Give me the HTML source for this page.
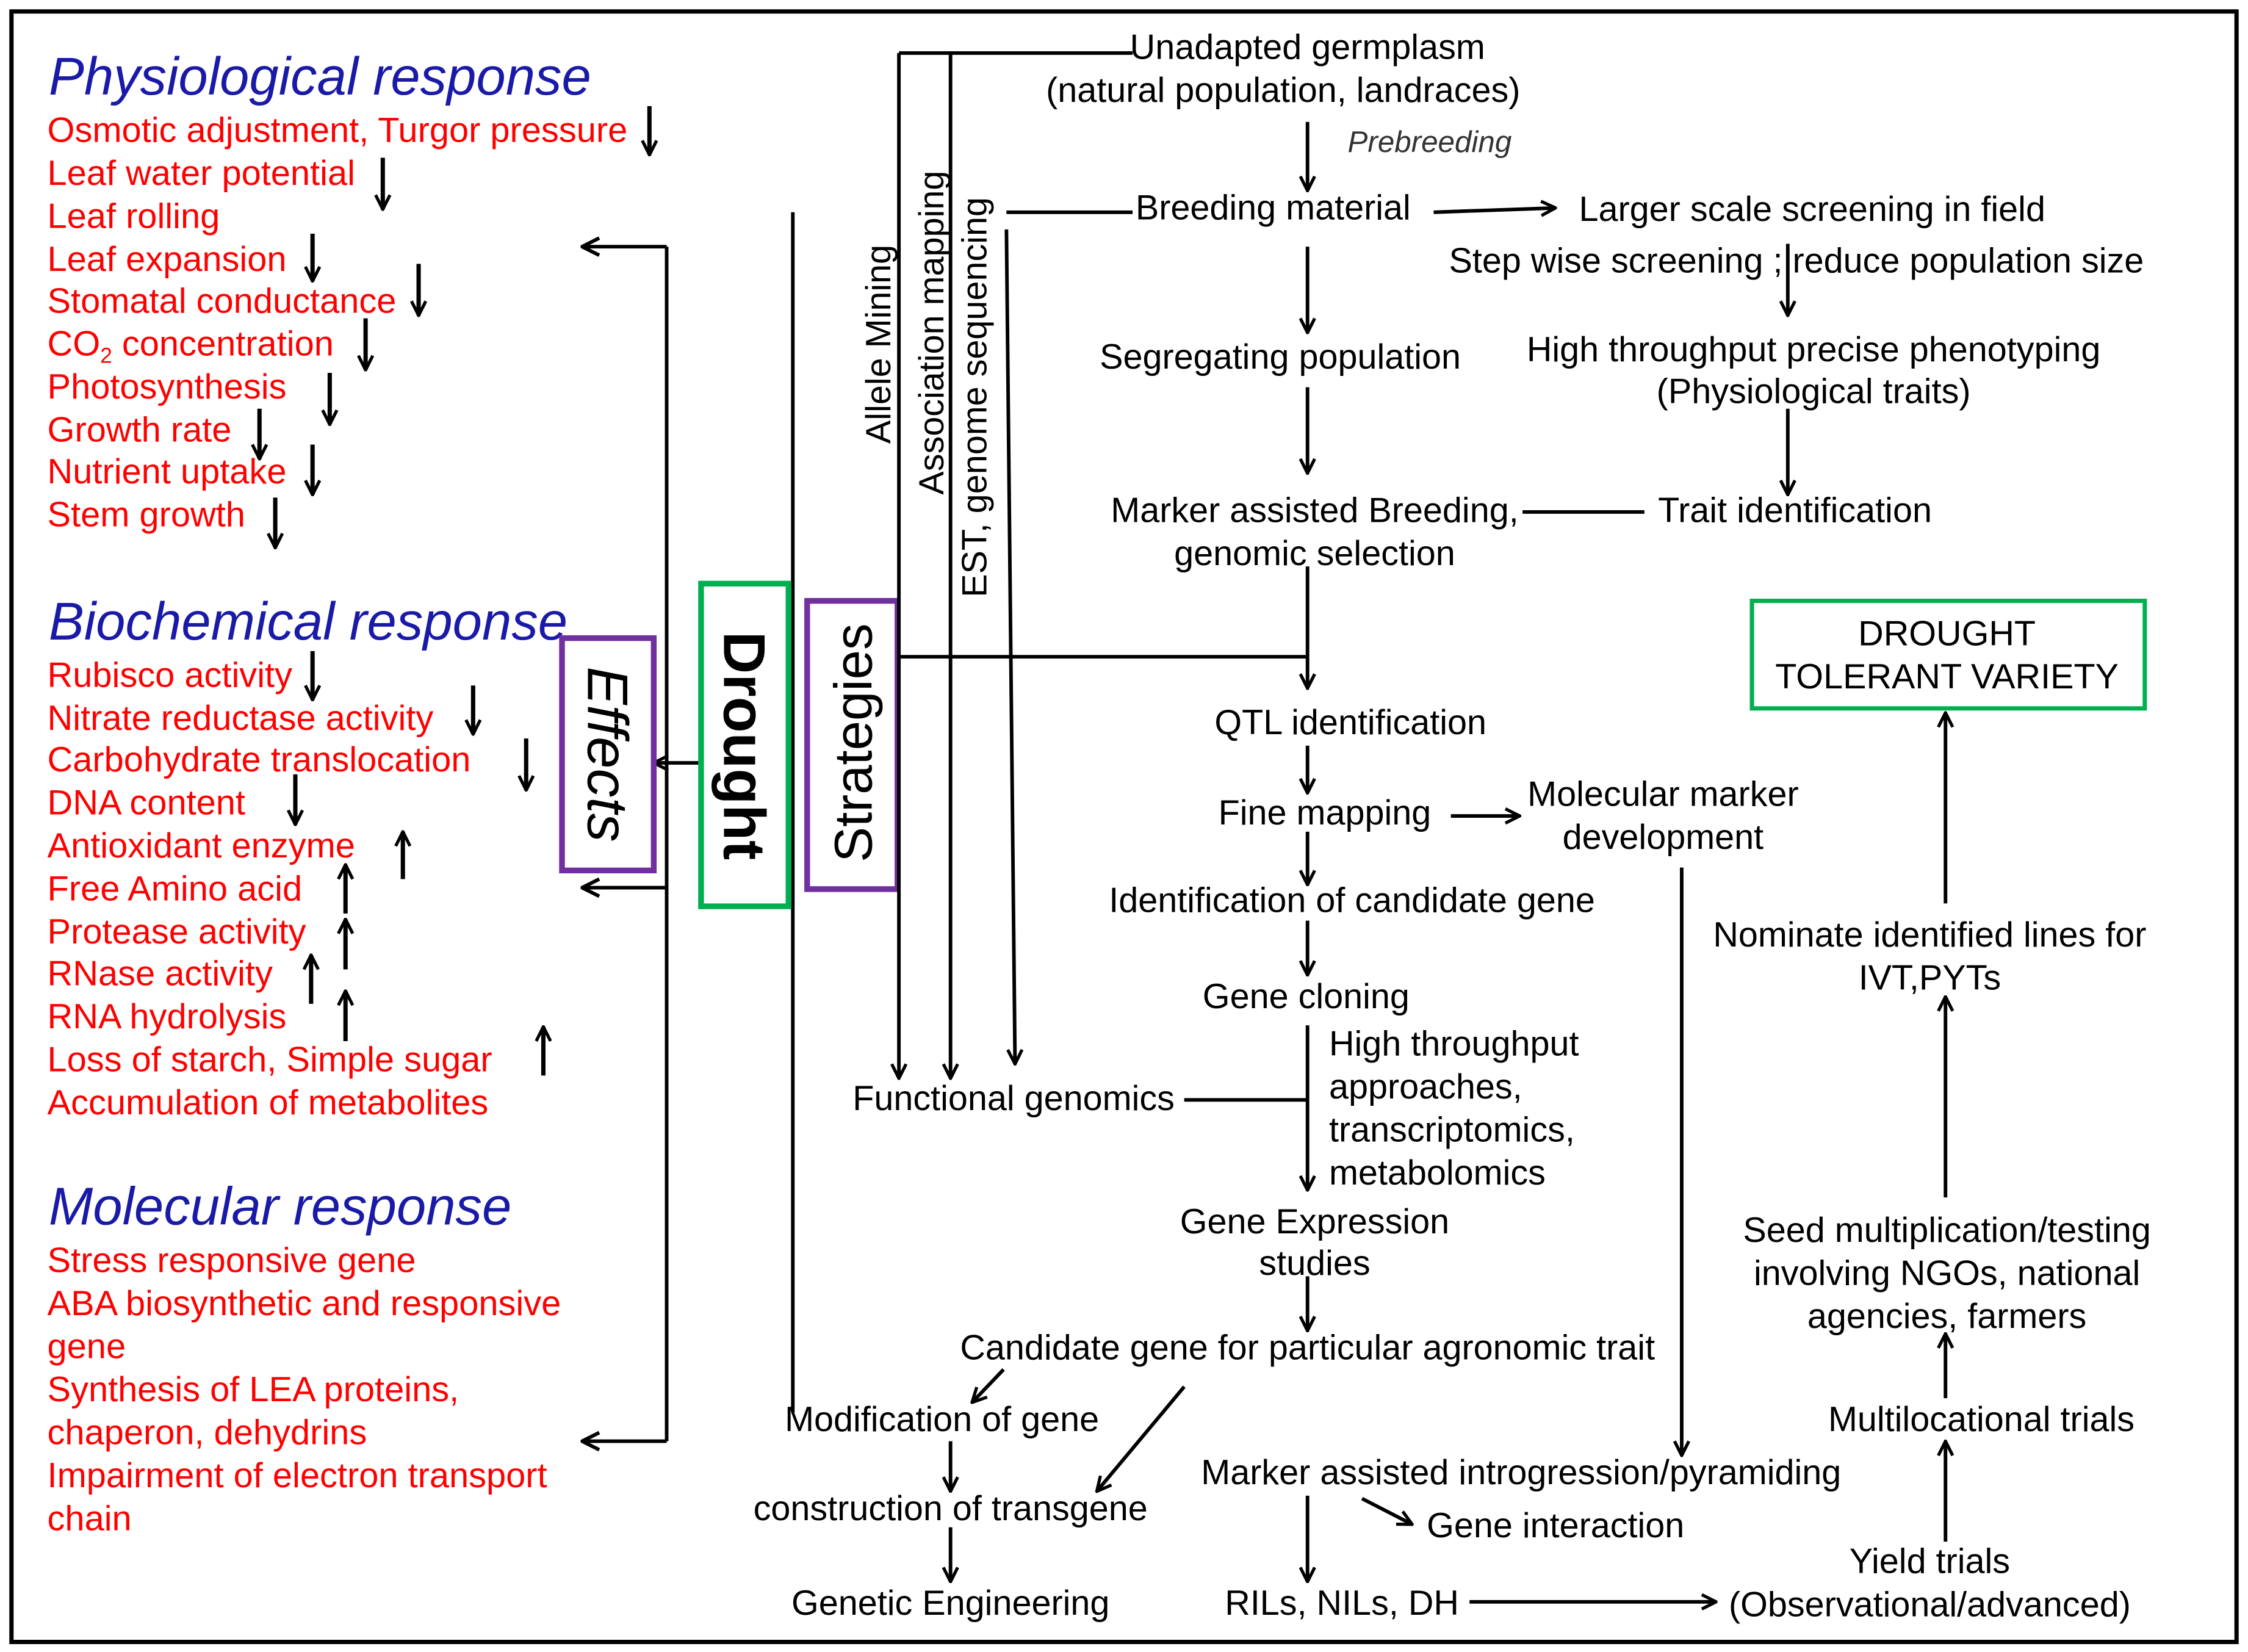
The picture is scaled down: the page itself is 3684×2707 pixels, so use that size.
<!DOCTYPE html>
<html><head><meta charset="utf-8"><style>
html,body{margin:0;padding:0;background:#fff;}
svg{display:block;}
text{font-family:"Liberation Sans",Arial,sans-serif;}
.r{fill:#ff0000;font-size:24.6px;}
.k{fill:#000;font-size:24.5px;}
.h{fill:#1a1aa8;font-size:37px;font-style:italic;}
.m{text-anchor:middle;}
</style></head><body>
<svg width="3684" height="2707" viewBox="0 0 1568 1152" preserveAspectRatio="none" xmlns="http://www.w3.org/2000/svg">
<defs>
<marker id="a" viewBox="0 0 12 12" refX="11" refY="6" markerWidth="12" markerHeight="12" markerUnits="userSpaceOnUse" orient="auto">
<path d="M1,1 L11,6 L1,11" fill="none" stroke="#000" stroke-width="2.2"/></marker>
<marker id="b" viewBox="0 0 14 14" refX="13" refY="7" markerWidth="14" markerHeight="14" markerUnits="userSpaceOnUse" orient="auto">
<path d="M1,1 L13,7 L1,13" fill="none" stroke="#000" stroke-width="2.5"/></marker>
</defs>
<rect x="0" y="0" width="1568" height="1152" fill="#fff"/>
<rect x="8" y="8" width="1552" height="1137" fill="none" stroke="#000" stroke-width="3"/>

<text class="h" x="34" y="66">Physiological response</text>
<text class="h" x="34" y="446">Biochemical response</text>
<text class="h" x="34" y="854">Molecular response</text>

<text class="r" x="33" y="99">Osmotic adjustment, Turgor pressure</text>
<text class="r" x="33" y="129">Leaf water potential</text>
<text class="r" x="33" y="159">Leaf rolling</text>
<text class="r" x="33" y="189">Leaf expansion</text>
<text class="r" x="33" y="218">Stomatal conductance</text>
<text class="r" x="33" y="248">CO<tspan font-size="15" dy="5">2</tspan><tspan dy="-5"> concentration</tspan></text>
<text class="r" x="33" y="278">Photosynthesis</text>
<text class="r" x="33" y="308">Growth rate</text>
<text class="r" x="33" y="337">Nutrient uptake</text>
<text class="r" x="33" y="367">Stem growth</text>

<text class="r" x="33" y="479">Rubisco activity</text>
<text class="r" x="33" y="509">Nitrate reductase activity</text>
<text class="r" x="33" y="538">Carbohydrate translocation</text>
<text class="r" x="33" y="568">DNA content</text>
<text class="r" x="33" y="598">Antioxidant enzyme</text>
<text class="r" x="33" y="628">Free Amino acid</text>
<text class="r" x="33" y="658">Protease activity</text>
<text class="r" x="33" y="687">RNase activity</text>
<text class="r" x="33" y="717">RNA hydrolysis</text>
<text class="r" x="33" y="747">Loss of starch, Simple sugar</text>
<text class="r" x="33" y="777">Accumulation of metabolites</text>

<text class="r" x="33" y="887">Stress responsive gene</text>
<text class="r" x="33" y="917">ABA biosynthetic and responsive</text>
<text class="r" x="33" y="947">gene</text>
<text class="r" x="33" y="977">Synthesis of LEA proteins,</text>
<text class="r" x="33" y="1007">chaperon, dehydrins</text>
<text class="r" x="33" y="1037">Impairment of electron transport</text>
<text class="r" x="33" y="1067">chain</text>

<g stroke="#000" stroke-width="3" fill="none" marker-end="url(#a)">
<line x1="453" y1="74" x2="453" y2="108"/>
<line x1="267" y1="110" x2="267" y2="146"/>
<line x1="218" y1="163" x2="218" y2="196"/>
<line x1="292" y1="184" x2="292" y2="220"/>
<line x1="255" y1="222" x2="255" y2="258"/>
<line x1="230" y1="260" x2="230" y2="296"/>
<line x1="181" y1="285" x2="181" y2="320"/>
<line x1="218" y1="310" x2="218" y2="345"/>
<line x1="192" y1="347" x2="192" y2="382"/>
<line x1="218" y1="454" x2="218" y2="488"/>
<line x1="330" y1="478" x2="330" y2="512"/>
<line x1="367" y1="515" x2="367" y2="551"/>
<line x1="206" y1="540" x2="206" y2="575"/>
<line x1="281" y1="613" x2="281" y2="580"/>
<line x1="241" y1="637" x2="241" y2="603"/>
<line x1="241" y1="676" x2="241" y2="641"/>
<line x1="217" y1="700" x2="217" y2="666"/>
<line x1="241" y1="726" x2="241" y2="691"/>
<line x1="379" y1="750" x2="379" y2="716"/>
</g>

<g stroke="#000" stroke-width="2.5" fill="none">
<line x1="465" y1="172" x2="465" y2="1005"/>
<line x1="465" y1="172" x2="406" y2="172" marker-end="url(#b)"/>
<line x1="465" y1="619" x2="406" y2="619" marker-end="url(#b)"/>
<line x1="465" y1="1005" x2="406" y2="1005" marker-end="url(#b)"/>
<line x1="488" y1="532" x2="456" y2="532" marker-end="url(#a)"/>
<line x1="553" y1="148" x2="553" y2="985"/>
</g>

<rect x="392" y="445" width="64" height="162" fill="none" stroke="#7030a0" stroke-width="4"/>
<text transform="translate(410,526) rotate(90)" class="m" style="font-size:40px;font-style:italic" fill="#000">Effects</text>
<rect x="489" y="407" width="61" height="225" fill="#fff" stroke="#00b050" stroke-width="4"/>
<text transform="translate(505,520) rotate(90)" class="m" style="font-size:41px;font-weight:bold" fill="#000">Drought</text>
<rect x="563" y="419" width="63" height="201" fill="#fff" stroke="#7030a0" stroke-width="4"/>
<text transform="translate(608,518) rotate(-90)" class="m" style="font-size:37px" fill="#000">Strategies</text>

<g stroke="#000" stroke-width="2.5" fill="none">
<line x1="627" y1="37" x2="790" y2="37"/>
<line x1="627" y1="37" x2="627" y2="752" marker-end="url(#a)"/>
<line x1="663" y1="37" x2="663" y2="752" marker-end="url(#a)"/>
<line x1="702" y1="148" x2="790" y2="148"/>
<line x1="702" y1="160" x2="708" y2="742" marker-end="url(#a)"/>
<line x1="627" y1="458" x2="912" y2="458"/>
</g>
<text transform="translate(621,240) rotate(-90)" class="k m">Allele Mining</text>
<text transform="translate(658,232) rotate(-90)" class="k m">Association mapping</text>
<text transform="translate(688,277) rotate(-90)" class="k m">EST, genome sequencing</text>

<g class="k m">
<text x="912" y="41">Unadapted germplasm</text>
<text x="895" y="71">(natural population, landraces)</text>
<text x="888" y="153">Breeding material</text>
<text x="1264" y="154">Larger scale screening in field</text>
<text x="1253" y="190">Step wise screening ;  reduce population size</text>
<text x="893" y="257">Segregating population</text>
<text x="1265" y="252">High throughput precise phenotyping</text>
<text x="1265" y="281">(Physiological traits)</text>
<text x="917" y="364">Marker assisted Breeding,</text>
<text x="917" y="394">genomic selection</text>
<text x="1252" y="364">Trait identification</text>
<text x="942" y="512">QTL identification</text>
<text x="924" y="575">Fine mapping</text>
<text x="1160" y="562">Molecular marker</text>
<text x="1160" y="592">development</text>
<text x="943" y="636">Identification of candidate gene</text>
<text x="911" y="703">Gene cloning</text>
<text x="707" y="774">Functional genomics</text>
<text x="917" y="860">Gene Expression</text>
<text x="917" y="889">studies</text>
<text x="912" y="948">Candidate gene for particular agronomic trait</text>
<text x="657" y="998">Modification of gene</text>
<text x="663" y="1060">construction of transgene</text>
<text x="663" y="1126">Genetic Engineering</text>
<text x="1061" y="1035">Marker assisted introgression/pyramiding</text>
<text x="1085" y="1072">Gene interaction</text>
<text x="936" y="1126">RILs, NILs, DH</text>
<text x="1346" y="1097">Yield trials</text>
<text x="1346" y="1127">(Observational/advanced)</text>
<text x="1382" y="998">Multilocational trials</text>
<text x="1358" y="866">Seed multiplication/testing</text>
<text x="1358" y="896">involving NGOs, national</text>
<text x="1358" y="926">agencies, farmers</text>
<text x="1346" y="660">Nominate identified lines for</text>
<text x="1346" y="690">IVT,PYTs</text>
<text x="1358" y="450">DROUGHT</text>
<text x="1358" y="480">TOLERANT VARIETY</text>
</g>
<text x="927" y="736" class="k">High throughput</text>
<text x="927" y="766" class="k">approaches,</text>
<text x="927" y="796" class="k">transcriptomics,</text>
<text x="927" y="826" class="k">metabolomics</text>
<text x="940" y="106" style="font-size:21px;font-style:italic" fill="#333">Prebreeding</text>
<rect x="1222" y="419" width="274" height="75" fill="none" stroke="#00b050" stroke-width="3"/>

<g stroke="#000" stroke-width="2.5" fill="none" marker-end="url(#a)">
<line x1="912" y1="85" x2="912" y2="133"/>
<line x1="1000" y1="148" x2="1085" y2="145"/>
<line x1="1247" y1="170" x2="1247" y2="220"/>
<line x1="912" y1="172" x2="912" y2="232"/>
<line x1="1247" y1="285" x2="1247" y2="345"/>
<line x1="912" y1="270" x2="912" y2="330"/>
<line x1="912" y1="395" x2="912" y2="480"/>
<line x1="912" y1="520" x2="912" y2="553"/>
<line x1="1012" y1="569" x2="1060" y2="569"/>
<line x1="912" y1="580" x2="912" y2="617"/>
<line x1="912" y1="642" x2="912" y2="680"/>
<line x1="912" y1="715" x2="912" y2="830"/>
<line x1="912" y1="890" x2="912" y2="928"/>
<line x1="700" y1="955" x2="678" y2="978"/>
<line x1="826" y1="967" x2="765" y2="1040"/>
<line x1="663" y1="1005" x2="663" y2="1040"/>
<line x1="663" y1="1065" x2="663" y2="1103"/>
<line x1="1173" y1="605" x2="1173" y2="1015"/>
<line x1="950" y1="1045" x2="985" y2="1063"/>
<line x1="912" y1="1043" x2="912" y2="1103"/>
<line x1="1025" y1="1117" x2="1197" y2="1117"/>
<line x1="1357" y1="1075" x2="1357" y2="1005"/>
<line x1="1357" y1="975" x2="1357" y2="930"/>
<line x1="1357" y1="835" x2="1357" y2="695"/>
<line x1="1357" y1="630" x2="1357" y2="497"/>
</g>
<g stroke="#000" stroke-width="2.5">
<line x1="1062" y1="357" x2="1147" y2="357"/>
<line x1="826" y1="767" x2="912" y2="767"/>
</g>
</svg>
</body></html>
